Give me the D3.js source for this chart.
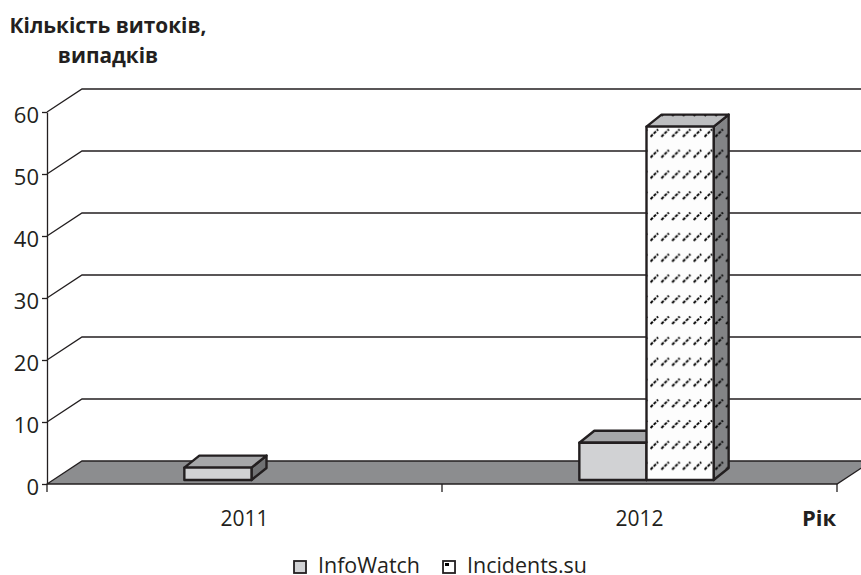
<!DOCTYPE html>
<html><head><meta charset="utf-8">
<script src="https://cdn.jsdelivr.net/npm/d3@7/dist/d3.min.js"></script>
<style>
html,body{margin:0;padding:0;background:#fff;}
svg{display:block;}
text{font-family:"Open Sans","Noto Sans",sans-serif;fill:#231f20;}
</style></head>
<body>
<svg id="chart" width="861" height="575"></svg>
<script>
// ---- data ----
const categories = ["2011", "2012"];
const seriesNames = ["InfoWatch", "Incidents.su"];
const infoWatch = [2, 6];
const incidents = [null, 57];
const yTicks = [0, 10, 20, 30, 40, 50, 60];
const titleLines = ["Кількість витоків,", "випадків"];
const xTitle = "Рік";

const svg = d3.select("#chart");
const ink = "#231f20";

// geometry
const DX = 35, DY = 23;            // floor depth
const FX = 7, FY = 4;              // bar front offset inside depth
const BDX = 15, BDY = 12;          // bar depth
const W = 861;

const y = d3.scaleLinear().domain([0, 60]).range([484, 112]);
const yb = d3.scaleLinear().domain([0, 60]).range([484 - FY, 112 - FY]);
const x0 = d3.scaleBand().domain(categories).range([47, 837]).padding(0);
const barW = x0.bandwidth() * 0.17;
const x1 = d3.scaleBand().domain(seriesNames).range([-barW, barW]).padding(0);

// patterns
const defs = svg.append("defs");
function dashPattern(id, bg) {
  const p = defs.append("pattern").attr("id", id).attr("patternUnits", "userSpaceOnUse")
    .attr("width", 10.8).attr("height", 20.8).attr("x", 2).attr("y", 3);
  if (bg) p.append("rect").attr("width", 10.8).attr("height", 20.8).attr("fill", bg);
  p.append("path").attr("d", "M0.5,9 L8,1.5").attr("stroke", "#000").attr("stroke-width", 2)
    .attr("stroke-dasharray", "3.2,1.3").attr("fill", "none");
}
dashPattern("pFront", "#fdfdfd");
dashPattern("pTop", "#bdbec0");
dashPattern("pSide", "#838486");
const lp = defs.append("pattern").attr("id", "pLegend").attr("patternUnits", "objectBoundingBox")
  .attr("width", 1).attr("height", 1);
lp.append("rect").attr("width", 12).attr("height", 12).attr("fill", "#fff");
lp.append("rect").attr("x", 2).attr("y", 2).attr("width", 4).attr("height", 3).attr("fill", "#000");

// gridlines on walls
const grid = svg.append("g");
grid.selectAll("path").data(yTicks.filter(d => d > 0)).join("path")
  .attr("d", d => `M${47},${y(d)} L${47 + DX},${y(d) - DY} L${W + 5},${y(d) - DY}`)
  .attr("fill", "none").attr("stroke", ink).attr("stroke-width", 1.3);

// floor
const fx0 = x0.range()[0], fx1 = x0.range()[1];
svg.append("path")
  .attr("d", `M${fx0},${y(0)} L${fx1},${y(0)} L${fx1 + DX},${y(0) - DY} L${fx0 + DX},${y(0) - DY} Z`)
  .attr("fill", "#8c8d8f").attr("stroke", ink).attr("stroke-width", 1.3);

// y axis
const yAxis = svg.append("g").attr("transform", `translate(47,0)`)
  .call(d3.axisLeft(y).tickValues(yTicks).tickSize(5).tickSizeOuter(0).tickPadding(3));
yAxis.select(".domain").attr("stroke", ink).attr("stroke-width", 1.3);
yAxis.selectAll(".tick line").attr("stroke", ink).attr("stroke-width", 1.3);
yAxis.selectAll(".tick text").attr("font-size", 22).attr("dy", "0.32em")
  .attr("y", 3).attr("fill", ink).style("font-family", '"Open Sans",sans-serif');

// category axis: boundary ticks + labels
const bounds = categories.map(c => x0(c)).concat([x0.range()[1]]);
svg.append("g").selectAll("line").data(bounds).join("line")
  .attr("x1", d => d).attr("x2", d => d).attr("y1", y(0)).attr("y2", y(0) + 8)
  .attr("stroke", ink).attr("stroke-width", 1.3);
const xAxis = svg.append("g").attr("transform", `translate(0,${y(0)})`)
  .call(d3.axisBottom(x0).tickSize(0).tickPadding(0));
xAxis.select(".domain").remove();
xAxis.selectAll(".tick text").attr("font-size", 21).attr("y", 42).attr("dy", 0)
  .attr("fill", ink).style("font-family", '"Open Sans",sans-serif');

svg.append("text").attr("x", 802).attr("y", 526).attr("font-size", 22)
  .attr("font-weight", "bold").text(xTitle);

// bars
function drawBar(g, left, v, faces) {
  const x = left + FX, w = barW;
  const yBot = yb(0), yTop = yb(v);
  const front = `M${x},${yTop} L${x + w},${yTop} L${x + w},${yBot} L${x},${yBot} Z`;
  const top = `M${x},${yTop} L${x + BDX},${yTop - BDY} L${x + w + BDX},${yTop - BDY} L${x + w},${yTop} Z`;
  const side = `M${x + w},${yTop} L${x + w + BDX},${yTop - BDY} L${x + w + BDX},${yBot - BDY} L${x + w},${yBot} Z`;
  [[side, faces.side], [top, faces.top], [front, faces.front]].forEach(([d, f]) => {
    g.append("path").attr("d", d).attr("fill", f).attr("stroke", ink)
      .attr("stroke-width", 2.4).attr("stroke-linejoin", "round");
  });
}
const styles = {
  "InfoWatch": { front: "#d1d2d4", top: "#a6a7a9", side: "#707173" },
  "Incidents.su": { front: "url(#pFront)", top: "url(#pTop)", side: "url(#pSide)" }
};
const seriesData = { "InfoWatch": infoWatch, "Incidents.su": incidents };
const bars = svg.append("g");
categories.forEach((c, i) => {
  const center = x0(c) + x0.bandwidth() / 2;
  seriesNames.forEach(s => {
    const v = seriesData[s][i];
    if (v == null) return;
    drawBar(bars, center + x1(s), v, styles[s]);
  });
});

// title
const title = svg.append("text").attr("font-weight", "bold").attr("text-anchor", "middle");
title.append("tspan").attr("x", 108).attr("y", 33).text(titleLines[0]);
title.append("tspan").attr("x", 108).attr("y", 63).text(titleLines[1]);
title.attr("font-size", 20);
const tw = title.select("tspan").node().getComputedTextLength();
title.attr("font-size", 20 * 197 / tw);

// legend
const legend = svg.append("g");
const items = legend.selectAll("g").data(seriesNames).join("g");
items.append("rect").attr("width", 12).attr("height", 12).attr("y", 561)
  .attr("fill", d => d === "InfoWatch" ? "#d1d2d4" : "url(#pLegend)")
  .attr("stroke", ink).attr("stroke-width", 1.8);
const lt = items.append("text").attr("y", 573).attr("font-size", 24).text(d => d);
const incW = lt.filter(d => d === "Incidents.su").node().getComputedTextLength();
const lfs = 24 * 120 / incW;
lt.attr("font-size", lfs);
const widths = lt.nodes().map(n => n.getComputedTextLength());
const total = 12 + 12 + widths[0] + 23 + 12 + 12 + widths[1];
let cx = 440.5 - total / 2;
items.each(function (d, i) {
  const g = d3.select(this);
  g.select("rect").attr("x", cx);
  g.select("text").attr("x", cx + 24);
  cx += 24 + widths[i] + 23;
});
</script>
</body></html>
